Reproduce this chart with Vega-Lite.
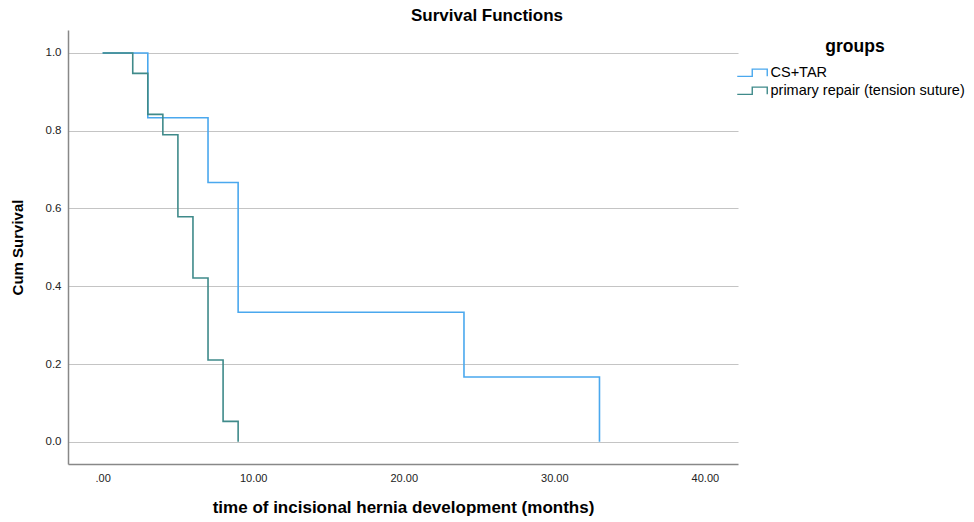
{
  "$schema": "https://vega.github.io/schema/vega-lite/v6.json",
  "autosize": {"type": "none"},
  "width": 670,
  "height": 434,
  "padding": {"left": 68, "top": 30, "right": 236, "bottom": 58},
  "background": "white",
  "title": {"text": "Survival Functions", "font": "Liberation Sans", "fontSize": 17, "fontWeight": "bold", "color": "#000000", "anchor": "middle", "frame": "group", "offset": 5, "dx": 84},
  "config": {
    "view": {"stroke": null},
    "font": "Liberation Sans"
  },
  "data": {"values": [
    {"group": "CS+TAR", "time": 0, "surv": 1.0},
    {"group": "CS+TAR", "time": 3, "surv": 0.8333},
    {"group": "CS+TAR", "time": 7, "surv": 0.6667},
    {"group": "CS+TAR", "time": 9, "surv": 0.3333},
    {"group": "CS+TAR", "time": 24, "surv": 0.1667},
    {"group": "CS+TAR", "time": 33, "surv": 0.0},
    {"group": "primary repair (tension suture)", "time": 0, "surv": 1.0},
    {"group": "primary repair (tension suture)", "time": 2, "surv": 0.9474},
    {"group": "primary repair (tension suture)", "time": 3, "surv": 0.8421},
    {"group": "primary repair (tension suture)", "time": 4, "surv": 0.7895},
    {"group": "primary repair (tension suture)", "time": 5, "surv": 0.5789},
    {"group": "primary repair (tension suture)", "time": 6, "surv": 0.4211},
    {"group": "primary repair (tension suture)", "time": 7, "surv": 0.2105},
    {"group": "primary repair (tension suture)", "time": 8, "surv": 0.0526},
    {"group": "primary repair (tension suture)", "time": 9, "surv": 0.0}
  ]},
  "mark": {"type": "line", "interpolate": "step-after", "strokeWidth": 1.6, "clip": true},
  "encoding": {
    "x": {
      "field": "time", "type": "quantitative",
      "scale": {"domain": [-2.3, 42.2], "nice": false, "zero": false},
      "axis": {
        "title": "time of incisional hernia development (months)",
        "titleFont": "Liberation Sans", "titleFontSize": 17, "titleFontWeight": "bold", "titleColor": "#000000", "titlePadding": 16,
        "values": [0, 10, 20, 30, 40], "format": ".2f", "labelExpr": "datum.value == 0 ? '.00' : format(datum.value, '.2f')",
        "labelFont": "Liberation Sans", "labelFontSize": 11, "labelColor": "#222222", "labelPadding": 8,
        "ticks": false, "grid": false, "domainColor": "#888888", "domainWidth": 1.5
      }
    },
    "y": {
      "field": "surv", "type": "quantitative",
      "scale": {"domain": [-0.057, 1.059], "nice": false, "zero": false},
      "axis": {
        "title": "Cum Survival",
        "titleFont": "Liberation Sans", "titleFontSize": 15, "titleFontWeight": "bold", "titleColor": "#000000", "titlePadding": 20,
        "values": [0, 0.2, 0.4, 0.6, 0.8, 1.0], "format": ".1f",
        "labelFont": "Liberation Sans", "labelFontSize": 11.5, "labelColor": "#222222", "labelPadding": 7,
        "ticks": false, "grid": true, "gridColor": "#c4c4c4", "gridWidth": 1.2, "domainColor": "#888888", "domainWidth": 1.5
      }
    },
    "color": {
      "field": "group", "type": "nominal",
      "scale": {"domain": ["CS+TAR", "primary repair (tension suture)"], "range": ["#4aa8ee", "#3f8a8a"]},
      "legend": {
        "title": "groups", "titleFont": "Liberation Sans", "titleFontSize": 17.5, "titleFontWeight": "bold", "titleColor": "#000000",
        "titleAnchor": "middle", "titlePadding": 10,
        "labelFont": "Liberation Sans", "labelFontSize": 14.5, "labelColor": "#000000", "labelOffset": 11, "labelLimit": 300,
        "orient": "none", "legendX": 677, "legendY": 8,
        "symbolType": "M-2.5,0.6L0,0.6L0,-0.6L2.5,-0.6L2.5,0.6", "symbolSize": 144, "symbolStrokeWidth": 1.4,
        "rowPadding": 3
      }
    }
  }
}
